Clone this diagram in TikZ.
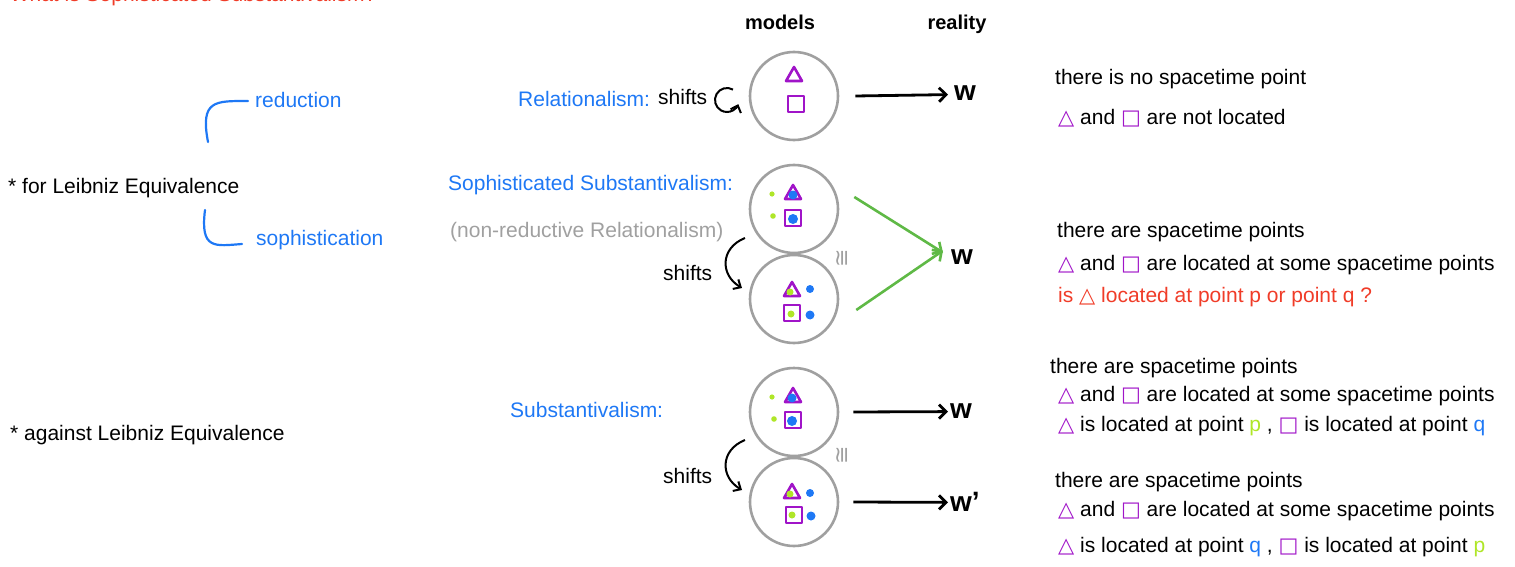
\documentclass[tikz,border=0pt]{standalone}
\usepackage{fontspec}
\setmainfont{Liberation Sans}
\newfontfamily\symf{DejaVu Sans}
\usetikzlibrary{arrows.meta}
\definecolor{cblue}{RGB}{30,120,245}
\definecolor{cpurp}{RGB}{160,20,200}
\definecolor{clime}{RGB}{175,230,40}
\definecolor{cgreen}{RGB}{95,185,70}
\definecolor{cred}{RGB}{240,60,40}
\definecolor{cgray}{RGB}{160,160,160}
\newcommand{\tri}{\textcolor{cpurp}{{\symf △}}}
\newcommand{\sqr}{\textcolor{cpurp}{{\symf □}}}
\tikzset{
  txt/.style={anchor=base west, inner sep=0pt, font=\fontsize{21}{24}\selectfont},
  rtxt/.style={anchor=base west, inner sep=0pt, font=\fontsize{21}{24}\selectfont},
  hdr/.style={anchor=base, inner sep=0pt, font=\fontsize{20}{24}\selectfont\bfseries},
  wlab/.style={anchor=base west, inner sep=0pt, font=\fontsize{28}{30}\selectfont\bfseries},
  world/.style={circle, draw=cgray, line width=2.6pt, minimum size=88pt, inner sep=0pt},
  blkarrow/.style={draw=black, line width=2.8pt, -{Straight Barb[length=7pt,width=14pt,line width=2.8pt]}},
  grnarrow/.style={draw=cgreen, line width=2.6pt, -{Straight Barb[length=7pt,width=14pt,line width=2.6pt]}},
  shiftarrow/.style={draw=black, line width=2pt, -{Straight Barb[length=6pt,width=11pt,line width=2pt]}},
  bracket/.style={draw=cblue, line width=2.2pt, line cap=round},
  tri/.pic={\draw[cpurp, line width=2.6pt, line join=round] (-8,7) -- (0,-7) -- (8,7) -- cycle;},
  sq/.pic={\draw[cpurp, line width=2.6pt, line join=round] (-8,-8) rectangle (8,8);},
  iso/.style={text=cgray, font=\symf\fontsize{22}{22}\selectfont, rotate=90, inner sep=0pt}
}
\begin{document}
\begin{tikzpicture}[x=1pt,y=-1pt]
\useasboundingbox (0,0) rectangle (1515,567);
\begin{scope}
\clip (0,0) rectangle (1515,567);
\node[txt, text=cred] (title) at (-4,1.5) {: What is Sophisticated Substantivalism?};
\end{scope}

% headers
\node[hdr] (models) at (780,30) {models};
\node[hdr] (reality) at (957,30) {reality};

% left column
\node[txt] (forLE) at (8,193) {* for Leibniz Equivalence};
\node[txt, text=cblue] (red) at (255,108) {reduction};
\node[txt, text=cblue] (soph) at (256,245) {sophistication};
\coordinate (b1a) at (208,142);
\coordinate (b1b) at (248,101);
\coordinate (b2a) at (205,210);
\coordinate (b2b) at (242,244);
\draw[bracket] (b1a) .. controls (200,100) and (215,101) .. (b1b);
\draw[bracket] (b2a) .. controls (200,250) and (215,246) .. (b2b);
\node[txt] (agLE) at (10,440) {* against Leibniz Equivalence};

% middle labels
\node[txt, text=cblue] (rel) at (518,107) {Relationalism:};
\node[txt] (sh1) at (658,105) {shifts};
\draw[shiftarrow] (727,100) ++(300:12) arc (300:20:12);
\node[txt, text=cblue] (sophsub) at (448,190) {Sophisticated Substantivalism:};
\node[txt, text=cgray] (nonred) at (450,237) {(non-reductive Relationalism)};
\node[txt, text=cblue] (sub) at (510,417) {Substantivalism:};
\node[txt] (sh2) at (663,280) {shifts};
\node[txt] (sh3) at (663,483) {shifts};
\coordinate (s2a) at (745,238);
\coordinate (s2b) at (742,288);
\coordinate (s3a) at (745,440);
\coordinate (s3b) at (742,490);
\draw[shiftarrow] (s2a) .. controls (720,248) and (720,275) .. (s2b);
\draw[shiftarrow] (s3a) .. controls (720,450) and (720,477) .. (s3b);

% model circles
\node[world] (c1) at (794,96) {};
\node[world] (c2) at (794,209) {};
\node[world] (c3) at (794,299) {};
\node[world] (c4) at (794,412) {};
\node[world] (c5) at (794,502) {};
\node[iso] (iso1) at (843,258) {≅};
\node[iso] (iso2) at (843,455) {≅};

% circle 1
\pic at (794,74) {tri};
\pic at (796,104) {sq};
% circle 2
\pic at (793,192) {tri};
\pic at (793,218) {sq};
\fill[cblue] (793,195) circle (4.5);
\fill[cblue] (793,219) circle (5);
\fill[clime] (772,194) circle (2.6);
\fill[clime] (773,216) circle (2.8);
% circle 3
\pic at (792,289) {tri};
\pic at (792,313) {sq};
\fill[clime] (790,292) circle (3.5);
\fill[clime] (791,314) circle (3.5);
\fill[cblue] (810,289) circle (4);
\fill[cblue] (810,315) circle (4.5);
% circle 4
\pic at (793,395) {tri};
\pic at (793,420) {sq};
\fill[cblue] (792,398) circle (4.5);
\fill[cblue] (792,421) circle (5);
\fill[clime] (772,397) circle (2.6);
\fill[clime] (774,419) circle (2.8);
% circle 5
\pic at (792,491) {tri};
\pic at (794,515) {sq};
\fill[clime] (790,494) circle (3.5);
\fill[clime] (792,515) circle (3.5);
\fill[cblue] (810,493) circle (4);
\fill[cblue] (811,516) circle (4.5);

% reality labels
\node[wlab] (w1) at (954,101) {w};
\node[wlab] (w2) at (951,264) {w};
\node[wlab] (w4) at (950,418) {w};
\node[wlab] (w5) at (950,511) {w'};

% arrows
\draw[blkarrow] ([xshift=16pt]c1.east) -- ([xshift=-6pt,yshift=-1pt]w1.west);
\draw[grnarrow] ([shift={(15,-12)}]c2.east) -- ([xshift=-8pt,yshift=4pt]w2.west);
\draw[grnarrow] ([shift={(17,11)}]c3.east) -- ([xshift=-8pt,yshift=6pt]w2.west);
\draw[blkarrow] ([xshift=14pt]c4.east) -- ([xshift=-2pt,yshift=-1pt]w4.west);
\draw[blkarrow] ([xshift=14pt]c5.east) -- ([xshift=-2pt,yshift=-1pt]w5.west);

% right descriptions
\node[rtxt] (d1a) at (1055,85) {there is no spacetime point};
\node[rtxt] (d1b) at (1058,125) {\tri{} and \sqr{} are not located};
\node[rtxt] (d2a) at (1057,237) {there are spacetime points};
\node[rtxt] (d2b) at (1058,270) {\tri{} and \sqr{} are located at some spacetime points};
\node[rtxt, text=cred] (d2c) at (1058,302) {is {\symf △} located at point p or point q ?};
\node[rtxt] (d3a) at (1050,373) {there are spacetime points};
\node[rtxt] (d3b) at (1058,401) {\tri{} and \sqr{} are located at some spacetime points};
\node[rtxt] (d3c) at (1058,431) {\tri{} is located at point \textcolor{clime}{p} , \sqr{} is located at point \textcolor{cblue}{q}};
\node[rtxt] (d4a) at (1055,487) {there are spacetime points};
\node[rtxt] (d4b) at (1058,516) {\tri{} and \sqr{} are located at some spacetime points};
\node[rtxt] (d4c) at (1058,552) {\tri{} is located at point \textcolor{cblue}{q} , \sqr{} is located at point \textcolor{clime}{p}};
\end{tikzpicture}
\end{document}
